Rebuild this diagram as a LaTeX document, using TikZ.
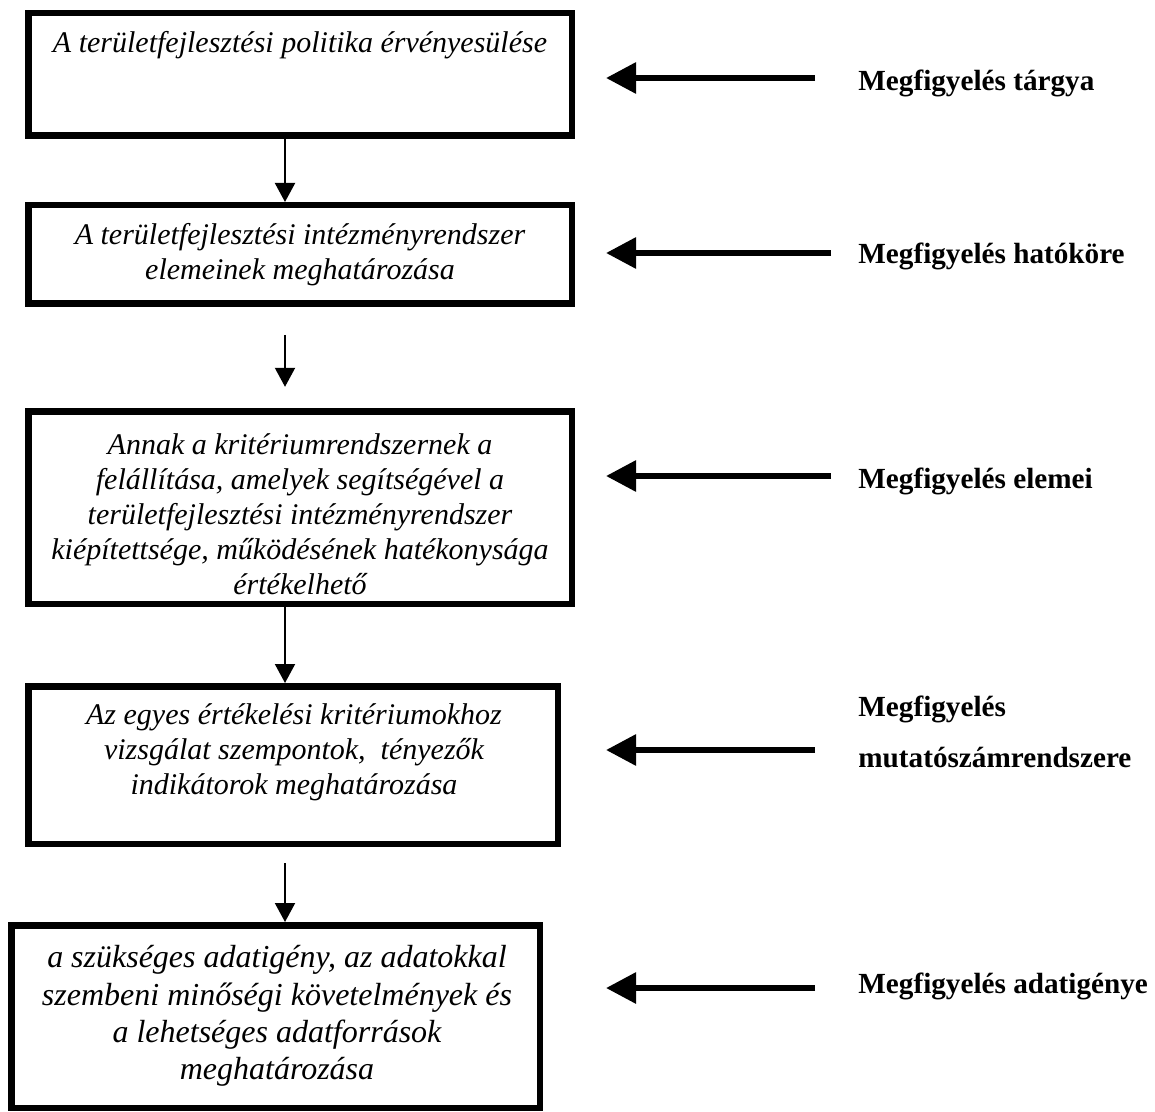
\documentclass[tikz,border=0pt]{standalone}
\usepackage{fontspec}
\setmainfont{Liberation Serif}
\usetikzlibrary{arrows.meta}
\begin{document}
\begin{tikzpicture}[x=0.5pt,y=-0.5pt,
  box/.style={draw, rectangle, line width=3.25pt, inner sep=0pt},
  boxtext/.style={align=center, inner sep=0pt,
    font=\fontsize{15pt}{17.5pt}\selectfont\itshape},
  tag/.style={anchor=west, align=left, inner sep=0pt,
    font=\fontsize{14.6pt}{17.5pt}\selectfont\bfseries},
  flow/.style={line width=1pt, -{Triangle[length=9.5pt,width=10pt]}},
  pointer/.style={line width=3pt, -{Triangle[length=15pt,width=15pt]}},
]
\useasboundingbox (0,0) rectangle (1155,1112);

% process boxes
\node[box, minimum width=271.75pt, minimum height=61.25pt] (b1) at (300,74.5) {};
\node[box, minimum width=271.75pt, minimum height=49.25pt] (b2) at (300,254.5) {};
\node[box, minimum width=271.75pt, minimum height=96.25pt] (b3) at (300,507.5) {};
\node[box, minimum width=264.75pt, minimum height=78.75pt] (b4) at (293,765) {};
\node[box, minimum width=264.25pt, minimum height=91.25pt] (b5) at (275.5,1016.5) {};

% box texts
\node[boxtext] (t1) at (300,45) {A területfejlesztési politika érvényesülése};
\node[boxtext] (t2) at (300,255) {A területfejlesztési intézményrendszer\\elemeinek meghatározása};
\node[boxtext] (t3) at (300,514) {Annak a kritériumrendszernek a\\felállítása, amelyek segítségével a\\területfejlesztési intézményrendszer\\kiépítettsége, működésének hatékonysága\\értékelhető};
\node[boxtext] (t4) at (294,752) {Az egyes értékelési kritériumokhoz\\vizsgálat szempontok,~ tényezők\\indikátorok meghatározása};
\node[boxtext, font=\fontsize{16pt}{18.7pt}\selectfont\itshape] (t5) at (277,1016) {a szükséges adatigény, az adatokkal\\szembeni minőségi követelmények és\\a lehetséges adatforrások\\meghatározása};

% flow arrows
\coordinate (ax) at (285,0);
\draw[flow] (b1.south -| ax) -- (b2.north -| ax);
\draw[flow, shorten <=14pt, shorten >=10.6pt] (b2.south -| ax) -- (b3.north -| ax);
\draw[flow] (b3.south -| ax) -- (b4.north -| ax);
\draw[flow, shorten <=8pt] (b4.south -| ax) -- (b5.north -| ax);

% labels on the right
\node[tag] (m1) at (858,83) {Megfigyelés tárgya};
\node[tag] (m2) at (858,256) {Megfigyelés hatóköre};
\node[tag] (m3) at (858,481) {Megfigyelés elemei};
\node[tag] (m4) at (858,732) {Megfigyelés\\[8pt]mutatószámrendszere};
\node[tag] (m5) at (858,986) {Megfigyelés adatigénye};

% pointer arrows
\coordinate (p1a) at (815,78);  \coordinate (p1b) at (606,78);
\coordinate (p2a) at (831,253); \coordinate (p2b) at (606,253);
\coordinate (p3a) at (831,476); \coordinate (p3b) at (606,476);
\coordinate (p4a) at (815,750); \coordinate (p4b) at (606,750);
\coordinate (p5a) at (815,988); \coordinate (p5b) at (606,988);
\draw[pointer] (p1a) -- (p1b);
\draw[pointer] (p2a) -- (p2b);
\draw[pointer] (p3a) -- (p3b);
\draw[pointer] (p4a) -- (p4b);
\draw[pointer] (p5a) -- (p5b);
\end{tikzpicture}
\end{document}
